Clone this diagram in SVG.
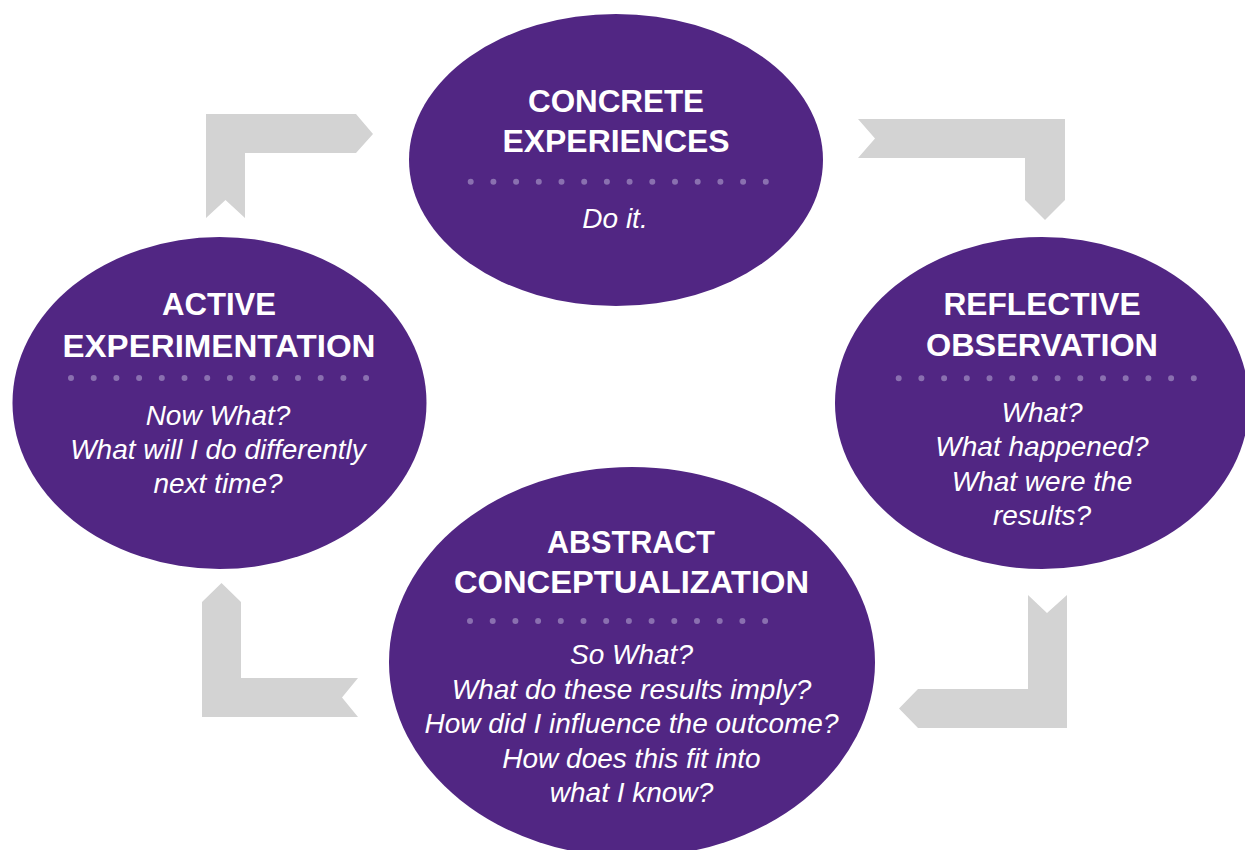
<svg xmlns="http://www.w3.org/2000/svg" width="1245" height="850" viewBox="0 0 1245 850">
<style>
.node{fill:#512683}
.arrow{fill:#d3d3d3}
.h{font-family:"Liberation Sans",Arial,sans-serif;font-weight:bold;font-size:32px;fill:#ffffff;text-anchor:middle}
.b{font-family:"Liberation Sans",Arial,sans-serif;font-style:italic;font-size:28px;fill:#ffffff;text-anchor:middle}
.dots{stroke:#8a70b0;stroke-width:6;stroke-linecap:round;stroke-dasharray:0 22.7;fill:none}
</style>
<rect width="1245" height="850" fill="#ffffff"/>
<g id="connectors">
<polygon class="arrow" points="858,119 1065,119 1065,200 1045,220 1025,200 1025,158 858,158 875,138.5"/>
<polygon class="arrow" points="1028,595 1047,613 1067,595 1067,728 918,728 899,708.5 918,689 1028,689"/>
<polygon class="arrow" points="221.5,583 241,602 241,678 358,678 342,697.5 358,717 202,717 202,602"/>
<polygon class="arrow" points="206,114 356,114 373,134 356,153 245,153 245,218 225.5,200 206,218"/>
</g>
<g id="concrete-experiences">
<ellipse class="node" cx="616" cy="160" rx="207" ry="146"/>
<text class="h" x="616" y="111.5" textLength="176" lengthAdjust="spacingAndGlyphs">CONCRETE</text>
<text class="h" x="616" y="151.5" textLength="227" lengthAdjust="spacingAndGlyphs">EXPERIENCES</text>
<line class="dots" x1="470.7" y1="181.7" x2="767" y2="181.7"/>
<text class="b" x="615" y="228">Do it.</text>
</g>
<g id="reflective-observation">
<ellipse class="node" cx="1042" cy="403" rx="207" ry="166"/>
<text class="h" x="1042" y="315" textLength="197" lengthAdjust="spacingAndGlyphs">REFLECTIVE</text>
<text class="h" x="1042" y="356" textLength="232" lengthAdjust="spacingAndGlyphs">OBSERVATION</text>
<line class="dots" x1="898.7" y1="378.3" x2="1195" y2="378.3"/>
<text class="b" x="1042" y="421.7">What?</text>
<text class="b" x="1042" y="456.2">What happened?</text>
<text class="b" x="1042" y="490.7">What were the</text>
<text class="b" x="1042" y="525">results?</text>
</g>
<g id="abstract-conceptualization">
<ellipse class="node" cx="632" cy="662" rx="243" ry="195"/>
<text class="h" x="631" y="553" textLength="168" lengthAdjust="spacingAndGlyphs">ABSTRACT</text>
<text class="h" x="631.5" y="593" textLength="355" lengthAdjust="spacingAndGlyphs">CONCEPTUALIZATION</text>
<line class="dots" x1="470" y1="621" x2="767" y2="621"/>
<text class="b" x="631.5" y="664">So What?</text>
<text class="b" x="631.5" y="698.5">What do these results imply?</text>
<text class="b" x="631.5" y="733">How did I influence the outcome?</text>
<text class="b" x="631.5" y="767.5">How does this fit into</text>
<text class="b" x="631.5" y="802">what I know?</text>
</g>
<g id="active-experimentation">
<ellipse class="node" cx="219.5" cy="403" rx="207" ry="166"/>
<text class="h" x="219" y="315" textLength="114" lengthAdjust="spacingAndGlyphs">ACTIVE</text>
<text class="h" x="219" y="356.7" textLength="313" lengthAdjust="spacingAndGlyphs">EXPERIMENTATION</text>
<line class="dots" x1="71" y1="378" x2="368" y2="378"/>
<text class="b" x="218" y="425">Now What?</text>
<text class="b" x="218" y="459">What will I do differently</text>
<text class="b" x="218" y="493">next time?</text>
</g>
</svg>
